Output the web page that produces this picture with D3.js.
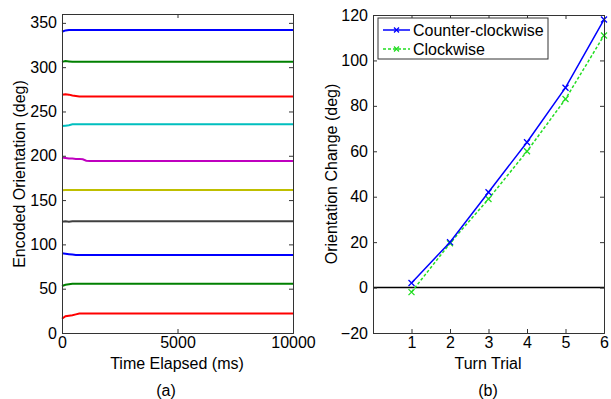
<!DOCTYPE html>
<html>
<head>
<meta charset="utf-8">
<script src="https://cdn.jsdelivr.net/npm/d3@7"></script>
<style>
  body { margin: 0; background: #fff; }
  svg { font-family: "Liberation Sans", Arial, sans-serif; }
  .axis text { font-size: 16px; fill: #000; }
  .axis path, .axis line { stroke: #333; }
</style>
</head>
<body>
<svg width="611" height="399"></svg>
<script>
var svg = d3.select("svg");

// panel (a) data: encoded orientation over time, one array per trace
var timeMs = [0, 150, 300, 450, 600, 750, 900, 1050, 1200, 2000, 3000, 4000, 5000, 6000, 7000, 8000, 9000, 10000];
var traceBlue1   = [340, 341.5, 342, 342, 342, 342, 342, 342, 342, 342, 342, 342, 342, 342, 342, 342, 342, 342];
var traceGreen1  = [306, 307, 306.5, 306, 306, 306, 306, 306, 306, 306, 306, 306, 306, 306, 306, 306, 306, 306];
var traceRed1    = [269, 269.5, 269, 268, 267.5, 267, 267, 267, 267, 267, 267, 267, 267, 267, 267, 267, 267, 267];
var traceCyan    = [233.5, 234, 234.5, 235.5, 235.5, 235.5, 235.5, 235.5, 235.5, 235.5, 235.5, 235.5, 235.5, 235.5, 235.5, 235.5, 235.5, 235.5];
var traceMagenta = [198, 197.5, 197, 197, 196.5, 196.5, 196, 194.5, 194, 194, 194, 194, 194, 194, 194, 194, 194, 194];
var traceYellow  = [161, 161.5, 161.5, 161.5, 161.5, 161.5, 161.5, 161.5, 161.5, 161.5, 161.5, 161.5, 161.5, 161.5, 161.5, 161.5, 161.5, 161.5];
var traceGray    = [125.5, 126, 125.5, 126, 126, 126, 126, 126, 126, 126, 126, 126, 126, 126, 126, 126, 126, 126];
var traceBlue2   = [90, 89.5, 89, 88.5, 88, 88, 88, 88, 88, 88, 88, 88, 88, 88, 88, 88, 88, 88];
var traceGreen2  = [53, 54.5, 55, 55.5, 55.5, 55.5, 55.5, 55.5, 55.5, 55.5, 55.5, 55.5, 55.5, 55.5, 55.5, 55.5, 55.5, 55.5];
var traceRed2    = [16, 19, 19.5, 20, 21, 22, 22, 22, 22, 22, 22, 22, 22, 22, 22, 22, 22, 22];
var traces = [traceBlue1, traceGreen1, traceRed1, traceCyan, traceMagenta,
              traceYellow, traceGray, traceBlue2, traceGreen2, traceRed2];
var traceColors = ["#0000ff", "#008000", "#ff0000", "#00bfbf", "#bf00bf",
                   "#bfbf00", "#404040", "#0000ff", "#008000", "#ff0000"];
var yTicksA = [0, 50, 100, 150, 200, 250, 300, 350];
var xTicksA = [0, 5000, 10000];

// panel (b) data
var trials = [1, 2, 3, 4, 5, 6];
var counterClockwise = [2, 20, 42, 64, 88, 118];
var clockwise = [-2, 19.5, 39, 60, 83, 111];
var yTicksB = [-20, 0, 20, 40, 60, 80, 100, 120];
var xTicksB = [1, 2, 3, 4, 5, 6];

function frame(g, x, y, xt, yt) {
    g.append("g").attr("class", "axis")
        .attr("transform", "translate(0," + y.range()[0] + ")")
        .call(d3.axisBottom(x).tickValues(xt).tickSize(-4).tickPadding(4).tickFormat(d3.format("d")));
    g.append("g").attr("class", "axis")
        .attr("transform", "translate(" + x.range()[0] + ",0)")
        .call(d3.axisLeft(y).tickValues(yt).tickSize(-4).tickPadding(5).tickFormat(d3.format("d")));
    g.append("g").attr("class", "axis")
        .attr("transform", "translate(0," + y.range()[1] + ")")
        .call(d3.axisTop(x).tickValues(xt).tickSize(-4).tickFormat(""));
    g.append("g").attr("class", "axis")
        .attr("transform", "translate(" + x.range()[1] + ",0)")
        .call(d3.axisRight(y).tickValues(yt).tickSize(-4).tickFormat(""));
    g.selectAll(".axis .domain").attr("stroke", "#333");
}

// ---- panel (a)
var xa = d3.scaleLinear().domain([0, 10000]).range([62, 293]);
var ya = d3.scaleLinear().domain([0, 360]).range([333, 14]);
var ga = svg.append("g");

var lineA = d3.line().x(function(d, i) { return xa(timeMs[i]); }).y(function(d) { return ya(d); });
ga.selectAll(".trace").data(traces).enter().append("path")
    .attr("class", "trace")
    .attr("d", lineA)
    .attr("fill", "none")
    .attr("stroke", function(d, i) { return traceColors[i]; })
    .attr("stroke-width", 2);

frame(ga, xa, ya, xTicksA, yTicksA);

ga.append("text").attr("x", 177).attr("y", 369).attr("text-anchor", "middle")
    .style("font-size", "16px").text("Time Elapsed (ms)");
ga.append("text").attr("transform", "translate(25,174) rotate(-90)").attr("text-anchor", "middle")
    .style("font-size", "16px").text("Encoded Orientation (deg)");
ga.append("text").attr("x", 166).attr("y", 396).attr("text-anchor", "middle")
    .style("font-size", "16px").text("(a)");

// ---- panel (b)
var xb = d3.scaleLinear().domain([0, 6]).range([373, 604]);
var yb = d3.scaleLinear().domain([-20, 120]).range([333, 15]);
var gb = svg.append("g");

gb.append("line")
    .attr("x1", xb(0)).attr("x2", xb(6))
    .attr("y1", yb(0)).attr("y2", yb(0))
    .attr("stroke", "#000").attr("stroke-width", 1.5);

var lineB = d3.line().x(function(d, i) { return xb(trials[i]); }).y(function(d) { return yb(d); });

var series = [
    { name: "Counter-clockwise", vals: counterClockwise, color: "#0000ff", dash: null },
    { name: "Clockwise", vals: clockwise, color: "#22dd22", dash: "3,2" }
];

series.slice().reverse().forEach(function(s) {
    gb.append("path").attr("d", lineB(s.vals))
        .attr("fill", "none").attr("stroke", s.color).attr("stroke-width", 1.5)
        .attr("stroke-dasharray", s.dash);
    gb.selectAll(null).data(s.vals).enter().append("path")
        .attr("transform", function(d, i) { return "translate(" + xb(trials[i]) + "," + yb(d) + ")"; })
        .attr("d", "M-3,-3L3,3M-3,3L3,-3")
        .attr("stroke", s.color).attr("stroke-width", 1.3);
});

frame(gb, xb, yb, xTicksB, yTicksB);

// legend
var lg = gb.append("g");
lg.append("rect").attr("x", 378).attr("y", 18).attr("width", 170).attr("height", 41)
    .attr("fill", "#fff").attr("stroke", "#333");
series.forEach(function(s, i) {
    var yy = 30 + i * 19;
    lg.append("line").attr("x1", 383).attr("x2", 410).attr("y1", yy).attr("y2", yy)
        .attr("stroke", s.color).attr("stroke-width", 1.5).attr("stroke-dasharray", s.dash);
    lg.append("path").attr("transform", "translate(396.5," + yy + ")")
        .attr("d", "M-2.5,-2.5L2.5,2.5M-2.5,2.5L2.5,-2.5")
        .attr("stroke", s.color).attr("stroke-width", 1.3);
    lg.append("text").attr("x", 413).attr("y", yy + 6).style("font-size", "16px").text(s.name);
});

gb.append("text").attr("x", 488).attr("y", 369).attr("text-anchor", "middle")
    .style("font-size", "16px").text("Turn Trial");
gb.append("text").attr("transform", "translate(337,174) rotate(-90)").attr("text-anchor", "middle")
    .style("font-size", "16px").text("Orientation Change (deg)");
gb.append("text").attr("x", 488).attr("y", 396).attr("text-anchor", "middle")
    .style("font-size", "16px").text("(b)");
</script>
</body>
</html>
